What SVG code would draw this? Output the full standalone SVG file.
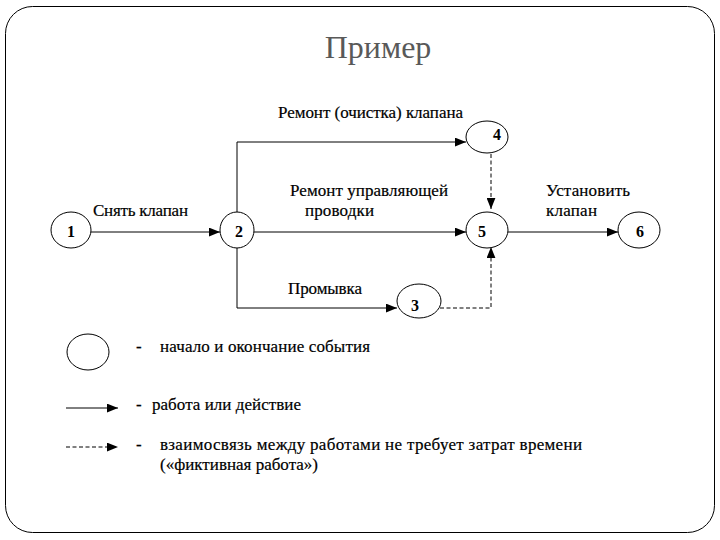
<svg xmlns="http://www.w3.org/2000/svg" width="720" height="540" viewBox="0 0 720 540">
<style>
.t{font-family:"Liberation Serif","Times New Roman",serif;font-size:17px;fill:#000;stroke:#000;stroke-width:0.2}
.n{font-family:"Liberation Serif","Times New Roman",serif;font-size:16px;font-weight:bold;fill:#000;text-anchor:middle}
.ev{fill:#fff;stroke:#000;stroke-width:1}
.ln{fill:none;stroke:#000;stroke-width:1}
.ds{fill:none;stroke:#000;stroke-width:1;stroke-dasharray:4,2.5}
</style>
<defs>
<marker id="ah" viewBox="0 0 10 8" refX="10" refY="4" markerWidth="11" markerHeight="9" markerUnits="userSpaceOnUse" orient="auto">
<path d="M0,0 L10,4 L0,8 Z" fill="#000"/>
</marker>
</defs>
<rect x="5.5" y="6.5" width="709" height="526" rx="27" ry="27" fill="#fff" stroke="#000" stroke-width="1"/>
<text x="378" y="58" text-anchor="middle" font-family="Liberation Serif, Times New Roman, serif" font-size="32" fill="#595959">Пример</text>

<g id="connectors">
<line class="ln" x1="91" y1="232" x2="220" y2="232" marker-end="url(#ah)"/>
<polyline class="ln" points="237,213 237,142 466,142" marker-end="url(#ah)"/>
<line class="ln" x1="254" y1="232" x2="466" y2="232" marker-end="url(#ah)"/>
<line class="ln" x1="508" y1="232" x2="618" y2="232" marker-end="url(#ah)"/>
<polyline class="ln" points="237,248 237,308 397,308" marker-end="url(#ah)"/>
<line class="ds" x1="491" y1="154" x2="491" y2="209" marker-end="url(#ah)"/>
<polyline class="ds" points="440,308 491,308 491,247" marker-end="url(#ah)"/>
</g>

<g id="node1"><ellipse class="ev" cx="71" cy="230" rx="20" ry="18"/><text class="n" x="71" y="237">1</text></g>
<g id="node2"><ellipse class="ev" cx="237" cy="230" rx="17" ry="18"/><text class="n" x="239" y="237">2</text></g>
<g id="node4"><ellipse class="ev" cx="487" cy="137" rx="21" ry="16"/><text class="n" x="497" y="140">4</text></g>
<g id="node5"><ellipse class="ev" cx="487" cy="230" rx="21" ry="18"/><text class="n" x="482" y="237">5</text></g>
<g id="node6"><ellipse class="ev" cx="639" cy="230" rx="21" ry="18"/><text class="n" x="640" y="237">6</text></g>
<g id="node3"><ellipse class="ev" cx="419" cy="301" rx="22" ry="17"/><text class="n" x="415" y="311">3</text></g>

<g id="labels">
<text class="t" x="93" y="216" textLength="95">Снять клапан</text>
<text class="t" x="278" y="118" textLength="185">Ремонт (очистка) клапана</text>
<text class="t" x="290" y="196" textLength="158">Ремонт управляющей</text>
<text class="t" x="305" y="216" textLength="69">проводки</text>
<text class="t" x="546" y="196" textLength="84">Установить</text>
<text class="t" x="546" y="216" textLength="51">клапан</text>
<text class="t" x="288" y="294" textLength="74">Промывка</text>
</g>

<g id="legend">
<ellipse class="ev" cx="88" cy="352" rx="21" ry="18"/>
<text class="t" x="136" y="352">-</text>
<text class="t" x="160" y="352" textLength="210">начало и окончание события</text>
<line class="ln" x1="66" y1="408" x2="118" y2="408" marker-end="url(#ah)"/>
<text class="t" x="136" y="410">-</text>
<text class="t" x="152" y="410" textLength="149">работа или действие</text>
<line class="ds" x1="66" y1="447" x2="118" y2="447" marker-end="url(#ah)"/>
<text class="t" x="136" y="450">-</text>
<text class="t" x="160" y="450" textLength="422">взаимосвязь между работами не требует затрат времени</text>
<text class="t" x="160" y="470" textLength="158">(«фиктивная работа»)</text>
</g>
</svg>
